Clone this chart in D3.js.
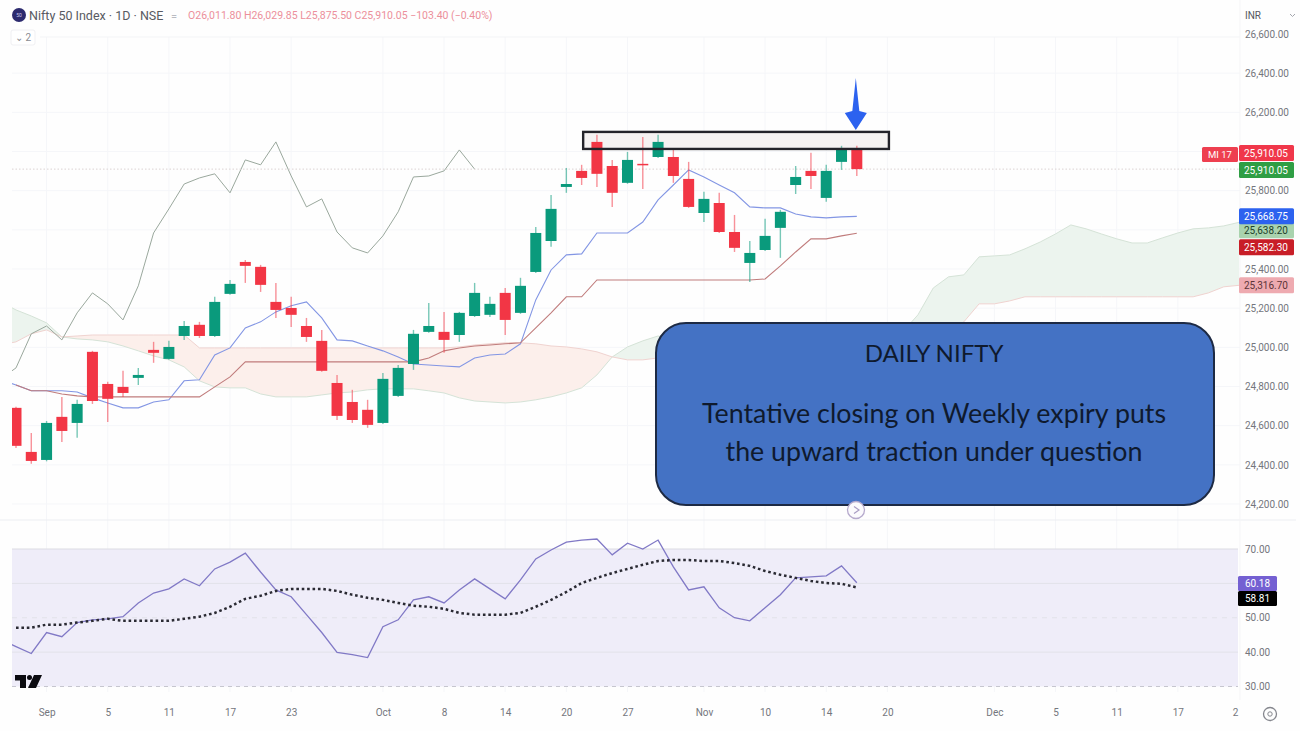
<!DOCTYPE html>
<html>
<head>
<meta charset="utf-8">
<title>Nifty 50 Index daily</title>
<script src="https://cdn.jsdelivr.net/npm/d3@7"></script>
<style>
  html, body { margin: 0; padding: 0; background: #fefefe; }
  svg { display: block; }
  text { font-family: "Roboto", "Liberation Sans", sans-serif; }
  .axis text { fill: #74767d; font-size: 10px; }
  .axis path, .axis line { display: none; }
</style>
</head>
<body>
<svg id="chart" width="1300" height="731"></svg>
<script>
// Daily candles, one row per field, in trading-session order.
const opens = [24691,24466,24425,24645,24614,24977,24813,24798,24844,24987,24941,25058,25115,25058,25273,25436,25411,25232,25201,25109,25033,24818,24721,24681,24614,24752,24915,25079,25079,25063,25160,25166,25278,25176,25385,25543,25819,25901,26049,25926,25840,25937,25972,25972,25860,25686,25737,25589,25431,25497,25610,25829,25901,25763,25947,26011.80];
const highs = [24696,24563,24624,24747,24732,24982,24824,24880,24895,25028,25033,25135,25130,25258,25344,25446,25421,25329,25258,25150,25089,24859,24783,24732,24869,24910,25089,25227,25181,25181,25329,25258,25303,25355,25615,25778,25916,25932,26085,25957,25998,26074,26085,26018,25947,25794,25789,25676,25543,25656,25702,25926,25993,25932,26029,26029.85];
const lows = [24486,24405,24418,24517,24538,24711,24619,24747,24808,24921,24936,25038,25048,25053,25268,25329,25283,25150,25104,25028,24875,24629,24614,24589,24609,24747,24885,25074,24972,25028,25155,25155,25063,25171,25380,25513,25789,25829,25819,25717,25835,25809,25967,25840,25712,25640,25584,25487,25334,25492,25457,25783,25809,25743,25906,25875.50];
const closes = [24497,24420,24614,24573,24711,24726,24737,24767,24859,24972,25002,25109,25058,25232,25324,25416,25319,25191,25166,25053,24880,24650,24629,24604,24839,24895,25069,25109,25038,25176,25278,25222,25140,25314,25584,25707,25834,25865,25886,25789,25957,25932,26049,25875,25717,25758,25589,25508,25482,25569,25692,25870,25875,25901,26008,25910.05];

// Ichimoku lines. Arrays marked "from -1" begin one session before the first candle.
const conversionLine = [24834,24808,24778,24778,24778,24772,24742,24716,24691,24691,24721,24732,24829,24834,24961,24997,25099,25130,25181,25212,25232,25150,25038,25033,25007,24982,24951,24915,24910,24905,24900,24946,24961,24966,25018,25242,25395,25472,25477,25584,25584,25584,25640,25753,25829,25906,25870,25829,25789,25717,25712,25712,25681,25666,25661,25666,25668.75]; // from -1
const baseLine = [24808,24778,24778,24762,24752,24747,24747,24747,24747,24747,24747,24747,24747,24798,24849,24926,24926,24926,24926,24926,24926,24926,24926,24926,24926,24926,24926,24946,24982,24997,25007,25012,25018,25023,25099,25176,25258,25258,25344,25344,25344,25344,25344,25344,25344,25344,25344,25344,25344,25349,25416,25487,25554,25554,25569,25582.30];
const laggingSpan = [24839,24895,25069,25109,25038,25176,25278,25222,25140,25314,25584,25707,25834,25865,25886,25789,25957,25932,26049,25875,25717,25758,25589,25508,25482,25569,25692,25870,25875,25901,26008,25910.05]; // from -1
const spanA = [25232,25191,25160,25125,25053,25043,25038,25028,25007,24982,24956,24936,24900,24829,24798,24793,24793,24762,24747,24747,24747,24757,24767,24772,24783,24788,24788,24788,24778,24767,24742,24726,24721,24716,24721,24732,24747,24767,24793,24859,24951,25002,25033,25058,25038,25038,25043,25048,25048,25053,25058,25063,25063,25069,25069,25074,25074,25074,25079,25079,25166,25303,25360,25370,25462,25467,25472,25503,25538,25579,25625,25605,25579,25554,25533,25533,25559,25584,25605,25610,25620,25638.20]; // from -1
const spanB = [25012,25028,25069,25089,25053,25058,25063,25063,25063,25063,25063,25063,25063,24997,24997,24997,24997,24997,24997,24997,24997,24997,24997,24997,24997,24997,24997,24997,24997,24997,25002,25012,25018,25023,25023,25018,25007,25002,24992,24977,24951,24936,24936,24946,24961,24961,24966,24966,24972,24972,24977,24977,24982,24982,24987,24987,24992,24992,24997,24997,25007,25038,25063,25130,25222,25222,25237,25258,25258,25258,25258,25258,25258,25258,25258,25258,25258,25258,25258,25278,25309,25316.70]; // from -1

// RSI panel.
const rsiValues = [43.6,41.6,39.6,45.7,44.5,48.6,49.4,49.7,50.3,54.3,57.2,58.4,61.3,59.3,64.2,66.2,68.8,63.3,58.1,56.1,50.9,45.7,39.9,39.3,38.4,47.4,49.4,55.2,56.1,54.3,58.1,61.3,58.4,55.5,61.0,67.1,69.7,72.0,72.6,72.9,68.3,71.7,70.0,72.6,64.8,58.1,59.0,52.9,50.0,49.1,52.9,56.7,61.6,61.9,62.2,65.1,60.18]; // from -1
const rsiAverage = [47.1,47.1,48.0,48.0,48.6,49.1,49.7,49.1,49.1,49.1,49.1,49.7,50.3,51.4,53.2,55.5,56.4,57.8,58.4,58.4,58.4,57.8,56.7,55.8,55.2,54.3,53.5,53.2,52.6,51.4,50.9,50.9,50.9,51.4,53.2,55.2,57.5,60.1,61.6,63.0,64.2,65.4,66.5,66.8,66.8,66.5,66.5,65.9,65.1,63.6,62.5,61.6,60.7,60.1,59.9,58.81];

// Axis contents.
const priceTicks = [24200,24400,24600,24800,25000,25200,25400,25600,25800,26000,26200,26400,26600];
const rsiTicks = [30,40,50,60,70];
const dateTickSessions = [2,6,10,14,18,24,28,32,36,40,45,49,53,57,64,68,72,76,79.75];
const dateTickLabels = ["Sep","5","11","17","23","Oct","8","14","20","27","Nov","10","14","20","Dec","5","11","17","2"];

// Resistance zone and headline text.
const zoneSessions = [37.1, 57.1];
const zonePrices = [26013, 26100];
const noteTitle = "DAILY NIFTY";
const noteLines = ["Tentative closing on Weekly expiry puts", "the upward traction under question"];

const UP = "#0a9a7c", DOWN = "#f23645";
const svg = d3.select("#chart");
const defs = svg.append("defs");

const x = d3.scaleLinear().domain([0, 80]).range([16, 1239]);
const y = d3.scaleLinear().domain([24200, 26600]).range([504, 34]);
const rsiY = d3.scaleLinear().domain([30, 70]).range([686.5, 549]);
const fmt = d3.format(",.2f");

defs.append("clipPath").attr("id", "priceClip").append("rect")
  .attr("x", 12).attr("y", 37).attr("width", 1228).attr("height", 483);
defs.append("clipPath").attr("id", "rsiClip").append("rect")
  .attr("x", 12).attr("y", 530).attr("width", 1226).attr("height", 160);

// Grid, behind everything in both panes.
const grid = svg.append("g").attr("stroke", "#f5f6f9").attr("stroke-width", 1);
grid.selectAll("line.v").data(dateTickSessions.slice(0, -1)).join("line").attr("class", "v")
  .attr("x1", d => x(d)).attr("x2", d => x(d)).attr("y1", 37).attr("y2", 692);
grid.selectAll("line.h").data(priceTicks.slice(0, -1)).join("line").attr("class", "h")
  .attr("x1", 12).attr("x2", 1240).attr("y1", d => y(d)).attr("y2", d => y(d));
svg.append("line").attr("x1", 40).attr("x2", 1240).attr("y1", 37).attr("y2", 37).attr("stroke", "#f3f4f6");
svg.append("line").attr("x1", 0).attr("x2", 1296).attr("y1", 520).attr("y2", 520).attr("stroke", "#eceef2");
svg.append("line").attr("x1", 1240).attr("x2", 1240).attr("y1", 0).attr("y2", 700).attr("stroke", "#f5f5f7");

const price = svg.append("g").attr("clip-path", "url(#priceClip)");

// Kumo fill: green where span A leads, red where span B leads.
const fromLead = (v, i) => ({ i: i - 1, v });
const cloud = spanA.map((a, k) => ({ i: k - 1, a, b: spanB[k] }));
const areaBull = d3.area().x(d => x(d.i)).y0(d => y(d.b)).y1(d => y(Math.max(d.a, d.b)));
const areaBear = d3.area().x(d => x(d.i)).y0(d => y(d.b)).y1(d => y(Math.min(d.a, d.b)));
price.append("path").datum(cloud).attr("d", areaBull).attr("fill", "#ecf4ee");
price.append("path").datum(cloud).attr("d", areaBear).attr("fill", "#fcefeb");

const priceLine = d3.line().x(d => x(d.i)).y(d => y(d.v));
const drawPrice = (values, colour, width) => price.append("path")
  .datum(values).attr("d", priceLine).attr("fill", "none")
  .attr("stroke", colour).attr("stroke-width", width);

drawPrice(spanA.map(fromLead), "#d5e3d7", 1);
drawPrice(spanB.map(fromLead), "#f0d3d0", 1);
drawPrice(laggingSpan.map(fromLead), "#9aa89d", 1);
drawPrice(conversionLine.map(fromLead), "#8396e4", 1.1);
drawPrice(baseLine.map((v, i) => ({ i, v })), "#c07c7c", 1.1);

// Dotted last-close line across the pane.
price.append("line").attr("x1", 12).attr("x2", 1240)
  .attr("y1", y(closes[closes.length - 1])).attr("y2", y(closes[closes.length - 1]))
  .attr("stroke", "#dcd2d2").attr("stroke-dasharray", "1.5 2");

// Zone fill sits under the candles; its outline goes on top further down.
const zoneRect = sel => sel
  .attr("x", x(zoneSessions[0])).attr("width", x(zoneSessions[1]) - x(zoneSessions[0]))
  .attr("y", y(zonePrices[1])).attr("height", y(zonePrices[0]) - y(zonePrices[1]));
svg.append("rect").call(zoneRect).attr("fill", "#f5f2f2");

// Candles
const bars = opens.map((o, i) => ({ i, o, h: highs[i], l: lows[i], c: closes[i] }));
const candle = svg.append("g").attr("clip-path", "url(#priceClip)")
  .selectAll("g").data(bars).join("g")
  .attr("fill", d => d.c >= d.o ? UP : DOWN)
  .attr("stroke", d => d.c >= d.o ? UP : DOWN);
candle.append("line")
  .attr("x1", d => x(d.i)).attr("x2", d => x(d.i))
  .attr("y1", d => y(d.h)).attr("y2", d => y(d.l))
  .attr("stroke-width", 1.4).attr("stroke-opacity", 0.55);
candle.append("rect")
  .attr("x", d => x(d.i) - 5.5).attr("width", 11)
  .attr("y", d => y(Math.max(d.o, d.c)))
  .attr("height", d => Math.max(1.5, Math.abs(y(d.o) - y(d.c))))
  .attr("stroke", "none");

// Zone outline and the arrow pointing at the last session.
svg.append("rect").call(zoneRect).attr("fill", "none").attr("stroke", "#23232a").attr("stroke-width", 2.4);
const ax = x(55) - 1, at = y(zonePrices[1]) - 2;
svg.append("path").attr("fill", "#2c62ef")
  .attr("d", `M${ax},${at - 52} L${ax + 3.5},${at - 19} L${ax + 11},${at - 17} L${ax},${at} L${ax - 11},${at - 17} L${ax - 3.5},${at - 19} Z`);

// RSI pane
svg.append("rect").attr("x", 12).attr("width", 1226)
  .attr("y", rsiY(70)).attr("height", rsiY(30) - rsiY(70)).attr("fill", "#efedf9");
const rsiGuides = svg.append("g");
rsiGuides.selectAll("line").data(rsiTicks).join("line")
  .attr("x1", 12).attr("x2", 1238).attr("y1", d => rsiY(d)).attr("y2", d => rsiY(d))
  .attr("stroke", d => d === 30 ? "#c6c6cf" : d === 70 ? "#dcdce3" : "#e2e2e9")
  .attr("stroke-dasharray", d => d === 30 ? "4 4" : d === 50 ? "5 5" : "none");

const rsiLine = d3.line().x(d => x(d.i)).y(d => rsiY(d.v));
const rsiG = svg.append("g").attr("clip-path", "url(#rsiClip)").attr("fill", "none");
rsiG.append("path").datum(rsiValues.map(fromLead)).attr("d", rsiLine)
  .attr("stroke", "#8179c6").attr("stroke-width", 1.3);
rsiG.append("path").datum(rsiAverage.map((v, i) => ({ i, v }))).attr("d", rsiLine)
  .attr("stroke", "#2a2a33").attr("stroke-width", 2.5).attr("stroke-dasharray", "2.6 2.8");

// Axes
svg.append("g").attr("class", "axis").attr("transform", "translate(1240,0)")
  .call(d3.axisRight(y).tickValues(priceTicks).tickSize(0).tickPadding(5).tickFormat(fmt));
svg.append("g").attr("class", "axis").attr("transform", "translate(1240,0)")
  .call(d3.axisRight(rsiY).tickValues(rsiTicks).tickSize(0).tickPadding(5).tickFormat(fmt));
svg.append("g").attr("class", "axis").attr("transform", "translate(0,705)")
  .call(d3.axisBottom(x).tickValues(dateTickSessions).tickSize(0).tickPadding(4)
    .tickFormat((d, i) => dateTickLabels[i]));

// Last-value tags on the price scale, nudged apart the way the scale stacks them.
const lastOf = a => a[a.length - 1];
const priceTags = [
  { value: lastOf(spanB), bg: "#eeaab0", fg: "#5c3438", dy: 0 },
  { value: lastOf(baseLine), bg: "#c81e27", fg: "#ffffff", dy: 14 },
  { value: lastOf(spanA), bg: "#a9d3ae", fg: "#20402a", dy: 8 },
  { value: lastOf(conversionLine), bg: "#2c62ef", fg: "#ffffff", dy: 0 },
  { value: lastOf(laggingSpan), bg: "#2f9e44", fg: "#ffffff", dy: 1 },
  { value: lastOf(closes), bg: "#f0374a", fg: "#ffffff", dy: -16 }
];
const tag = svg.append("g").selectAll("g").data(priceTags).join("g")
  .attr("transform", d => `translate(1239,${y(d.value) + d.dy})`);
tag.append("rect").attr("y", -8).attr("width", 55).attr("height", 16).attr("rx", 1.5).attr("fill", d => d.bg);
tag.append("text").attr("x", 5).attr("y", 3.5).attr("font-size", 10).attr("fill", d => d.fg)
  .text(d => fmt(d.value));

// Countdown tag beside the close.
svg.append("rect").attr("x", 1202).attr("y", 147).attr("width", 36).attr("height", 15).attr("rx", 1.5).attr("fill", "#ee3f50");
svg.append("text").attr("x", 1220).attr("y", 158).attr("text-anchor", "middle")
  .attr("font-size", 9.5).attr("fill", "#fff").text("MI 17");

const rsiTags = [
  { value: lastOf(rsiValues), bg: "#7460d2", top: 576 },
  { value: lastOf(rsiAverage), bg: "#000000", top: 591 }
];
const rTag = svg.append("g").selectAll("g").data(rsiTags).join("g")
  .attr("transform", d => `translate(1238,${d.top})`);
rTag.append("rect").attr("width", 39).attr("height", 15).attr("rx", 1.5).attr("fill", d => d.bg);
rTag.append("text").attr("x", 19.5).attr("y", 11).attr("text-anchor", "middle")
  .attr("font-size", 10).attr("fill", "#fff").text(d => fmt(d.value));

// Header strip
svg.append("circle").attr("cx", 19).attr("cy", 15).attr("r", 7).attr("fill", "#2c2a6e");
svg.append("text").attr("x", 19).attr("y", 17).attr("text-anchor", "middle")
  .attr("font-size", 5).attr("fill", "#c9c8ee").text("50");
svg.append("text").attr("x", 29).attr("y", 20).attr("font-size", 12.5).attr("fill", "#585a62")
  .text("Nifty 50 Index · 1D · NSE");
svg.append("text").attr("x", 171).attr("y", 20).attr("font-size", 11).attr("fill", "#b9bbc2").text("=");
const quote = `O${fmt(lastOf(opens))} H${fmt(lastOf(highs))} L${fmt(lastOf(lows))} C${fmt(lastOf(closes))} −103.40 (−0.40%)`;
svg.append("text").attr("x", 188).attr("y", 19).attr("font-size", 10.5).attr("fill", "#ec8f9b").text(quote);
svg.append("rect").attr("x", 11).attr("y", 30).attr("width", 24).attr("height", 15).attr("rx", 2)
  .attr("fill", "#fff").attr("stroke", "#f0f0f3");
svg.append("text").attr("x", 23).attr("y", 41).attr("text-anchor", "middle")
  .attr("font-size", 10).attr("fill", "#8a8c93").text("⌄ 2");
svg.append("text").attr("x", 1245).attr("y", 19).attr("font-size", 10).attr("fill", "#55575e").text("INR");
svg.append("path").attr("d", "M1290,14 l2.5,2.5 l2.5,-2.5").attr("fill", "none").attr("stroke", "#a4a6ad");

// Callout box
svg.append("rect").attr("x", 656).attr("y", 323).attr("width", 558).attr("height", 182).attr("rx", 30)
  .attr("fill", "#4472c4").attr("stroke", "#1d2a44").attr("stroke-width", 2);
svg.append("text").attr("x", 934).attr("y", 362).attr("text-anchor", "middle")
  .style("font-family", "Lato, sans-serif").attr("font-size", 24).attr("fill", "#0f1a2e").text(noteTitle);
svg.selectAll("text.note").data(noteLines).join("text").attr("class", "note")
  .attr("x", 934).attr("y", (d, i) => 423 + i * 38).attr("text-anchor", "middle")
  .style("font-family", "Lato, sans-serif").attr("font-size", 26.8).attr("fill", "#0f1a2e").text(d => d);

// Replay marker under the box
svg.append("circle").attr("cx", 856).attr("cy", 510).attr("r", 8.5).attr("fill", "#fbfafd").attr("stroke", "#b6aacd").attr("stroke-width", 1.3);
svg.append("path").attr("d", "M854,506.5 L859,510 L854,513.5").attr("fill", "none").attr("stroke", "#a99dc4").attr("stroke-width", 1.2);

// Platform mark in the corner of the lower pane
svg.append("path").attr("fill", "#0b0b10").attr("d", "M15,675 H26 V688 H20 V680.5 H15 Z M34,675 H42 L36,688 H28 Z");
svg.append("circle").attr("cx", 29.5).attr("cy", 677.5).attr("r", 2.5).attr("fill", "#0b0b10");

// Settings cog
svg.append("circle").attr("cx", 1270).attr("cy", 714).attr("r", 6.5).attr("fill", "none").attr("stroke", "#85878e").attr("stroke-width", 1.3);
svg.append("circle").attr("cx", 1270).attr("cy", 714).attr("r", 2.2).attr("fill", "none").attr("stroke", "#85878e");
</script>
</body>
</html>
